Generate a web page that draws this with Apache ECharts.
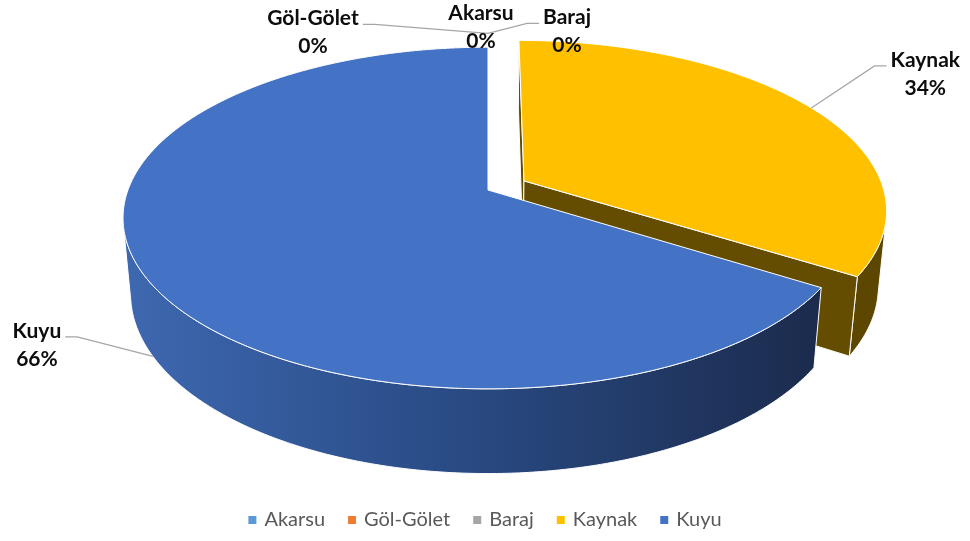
<!DOCTYPE html>
<html><head><meta charset="utf-8">
<script src="https://cdn.jsdelivr.net/npm/echarts@6/dist/echarts.min.js"></script>
<style>html,body{margin:0;padding:0;background:#fff}#c{width:970px;height:541px}</style>
</head><body><div id="c"></div>
<script>
// ---- data ----
const categories = ['Akarsu', 'Göl-Gölet', 'Baraj', 'Kaynak', 'Kuyu'];
const values = [0, 0, 0, 34, 66];

// ---- styling ----
const colors = ['#5B9BD5', '#ED7D31', '#A5A5A5', '#FFC000', '#4472C4'];
const wallColors = ['#3d6e99', '#a85823', '#767676', '#5c4600', null];
const sideColors = ['#3d6e99', '#a85823', '#767676', '#644d00', '#2a4a80'];
const explode = [0.115, 0.115, 0.115, 0.115, 0];
const labelOffset = [[-7, -6.5], [-175, -1], [79, -2], [114, -34], [-116, -11.5]];
const showLeader = [false, true, true, true, true];

const CX = 488, CY = 190, S = 360, PHI = 27.5 * Math.PI / 180, D = 5.41, H = 0.24;
const sn = Math.sin(PHI), cs = Math.cos(PHI);
const cam = [0, D * sn, D * cs];
function proj(x, y, z) {
  const v = z * sn - y * cs;
  const w = z * cs + y * sn;
  const k = D / (D - w);
  return [CX + S * x * k, CY + S * v * k];
}
const LABEL_FONT = 'bold 21px Lato';
const mctx = document.createElement('canvas').getContext('2d');
function textW(t) { mctx.font = LABEL_FONT; return mctx.measureText(t).width; }

const kuyuWall = new echarts.graphic.LinearGradient(124, 0, 830, 0, [
  { offset: 0, color: '#3e68b0' },
  { offset: 0.45, color: '#2a4c86' },
  { offset: 1, color: '#1b2a4b' }
], true);

function renderSlice(i) {
  return function (params, api) {
    const val = api.value(0);
    const total = values.reduce((a, b) => a + b, 0);
    let before = 0;
    for (let j = 0; j < i; j++) before += values[j];
    const a0 = before / total * 2 * Math.PI;
    const a1 = (before + val) / total * 2 * Math.PI;
    const mid = (a0 + a1) / 2;
    const e = explode[i];
    const ox = e * Math.sin(mid), oz = -e * Math.cos(mid);
    const rim = (t, y) => proj(ox + Math.sin(t), y, oz - Math.cos(t));
    const wallVis = t => (Math.sin(t) * (cam[0] - ox) - Math.cos(t) * (cam[2] - oz) - 1) > 0;
    const children = [];
    if (val > 0) {
      const n = Math.max(2, Math.ceil((a1 - a0) / (Math.PI / 360)));
      const ts = [];
      for (let k = 0; k <= n; k++) ts.push(a0 + (a1 - a0) * k / n);
      const wallFill = i === 4 ? kuyuWall : wallColors[i];
      let run = [];
      const flush = () => {
        if (run.length > 1) {
          const pts = run.map(t => rim(t, 0)).concat(run.slice().reverse().map(t => rim(t, -H)));
          children.push({ type: 'polygon', shape: { points: pts }, z2: 1,
            style: { fill: wallFill, stroke: '#ffffff', lineWidth: 1, lineJoin: 'round' } });
        }
        run = [];
      };
      for (const t of ts) { if (wallVis(t)) run.push(t); else flush(); }
      flush();
      [[a0, -1], [a1, 1]].forEach(([t, sg]) => {
        const nx = sg * Math.cos(t), nz = sg * Math.sin(t);
        const d = nx * (cam[0] - ox) + nz * (cam[2] - oz);
        if (d > 0) {
          const pts = [proj(ox, 0, oz), rim(t, 0), rim(t, -H), proj(ox, -H, oz)];
          children.push({ type: 'polygon', shape: { points: pts }, z2: 2,
            style: { fill: sideColors[i], stroke: '#ffffff', lineWidth: 1, lineJoin: 'round' } });
        }
      });
      const top = [proj(ox, 0, oz)].concat(ts.map(t => rim(t, 0)));
      children.push({ type: 'polygon', shape: { points: top }, z2: 3,
        style: { fill: colors[i], stroke: '#ffffff', lineWidth: 1, lineJoin: 'round' } });
    }
    // label
    const anchor = wallVis(mid) ? rim(mid, -H) : rim(mid, 0);
    const cx = anchor[0] + labelOffset[i][0];
    const cy = anchor[1] + labelOffset[i][1];
    const y1 = cy - 14, y2 = cy + 14;
    const name = categories[i];
    const pct = Math.round(val / total * 100) + '%';
    if (showLeader[i]) {
      const hw = textW(name) / 2;
      let sx, ex;
      if (anchor[0] > cx) { sx = cx + hw + 4; ex = sx + 12; }
      else { sx = cx - hw - 4; ex = sx - 12; }
      children.push({ type: 'polyline', z2: 5,
        shape: { points: [[sx, y1 + 6], [ex, y1 + 6], anchor] },
        style: { stroke: '#a6a6a6', lineWidth: 1.3, fill: null } });
    }
    children.push({ type: 'text', z2: 6, style: { text: name, x: cx, y: y1, font: LABEL_FONT,
      fill: '#0d0d0d', align: 'center', verticalAlign: 'middle' } });
    children.push({ type: 'text', z2: 6, style: { text: pct, x: cx, y: y2, font: LABEL_FONT,
      fill: '#0d0d0d', align: 'center', verticalAlign: 'middle' } });
    return { type: 'group', children: children };
  };
}

const series = categories.map((name, i) => ({
  type: 'custom',
  name: name,
  coordinateSystem: 'none',
  z: i === 4 ? 3 : (values[i] > 0 ? 2 : 5),
  itemStyle: { color: colors[i] },
  data: [[values[i]]],
  renderItem: renderSlice(i)
}));

const chart = echarts.init(document.getElementById('c'));
chart.setOption({
  animation: false,
  backgroundColor: '#ffffff',
  legend: {
    data: categories,
    bottom: 6,
    left: 'center',
    icon: 'rect',
    itemWidth: 8,
    itemHeight: 8,
    itemGap: 23,
    textStyle: { fontFamily: 'Lato', fontSize: 20, color: '#595959', padding: [0, 0, 0, 3] }
  },
  series: series
});
</script>
</body></html>
